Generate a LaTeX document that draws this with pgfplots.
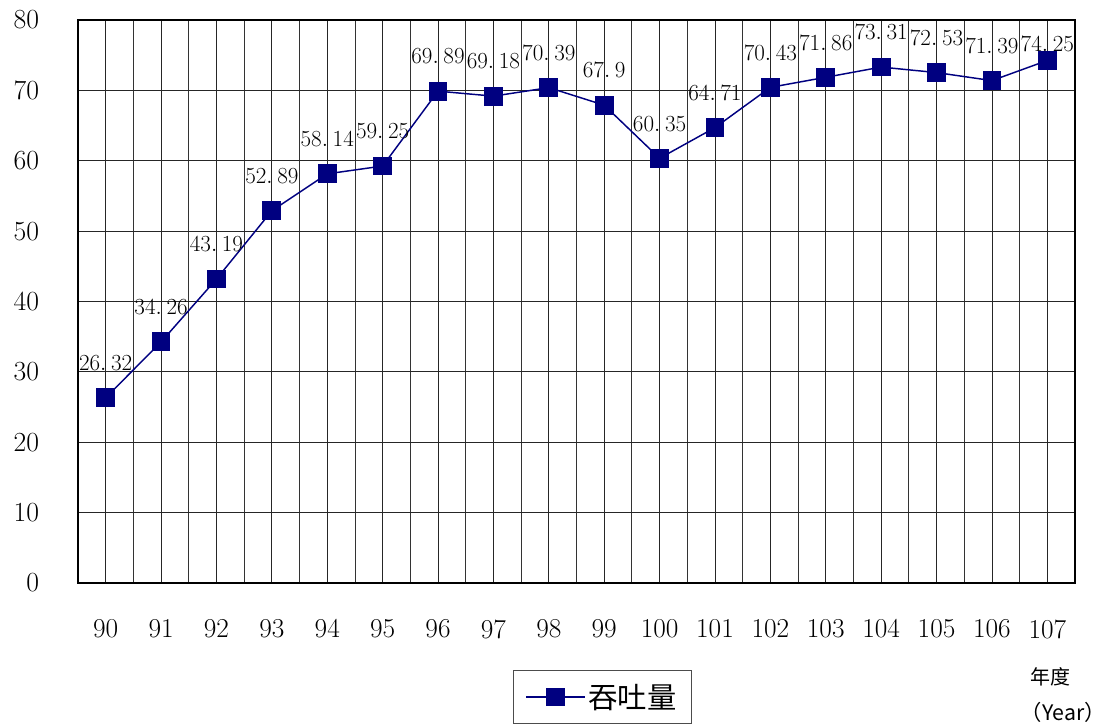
\documentclass[border=0pt]{standalone}
\usepackage{fontspec}
\usepackage{pgfplots}
\pgfplotsset{compat=1.18}
\newfontfamily\cjk{Noto Sans CJK TC}
\definecolor{navy}{RGB}{0,0,128}

\begin{document}
\begin{tikzpicture}
  \begin{axis}[
    at={(0,0)}, anchor=south west,
    scale only axis,
    width=747.75pt,
    height=422.25pt,
    xmin=-0.5, xmax=17.5,
    ymin=0, ymax=80,
    xtick={0,...,17},
    xticklabels={90,91,92,93,94,95,96,97,98,99,100,101,102,103,104,105,106,107},
    minor xtick={0.5,1.5,...,16.5},
    ytick={0,10,...,80},
    major tick length=0pt, minor tick length=0pt,
    xmajorgrids, xminorgrids, ymajorgrids,
    grid style={black!85, line width=0.6pt},
    minor grid style={black!80, line width=0.6pt},
    axis line style={black, line width=1.5pt},
    tick label style={font=\fontsize{20.5}{20}\selectfont, inner sep=0pt},
    xticklabel style={anchor=center, yshift=-34.5pt},
    yticklabel style={anchor=east, xshift=-29pt},
    nodes near coords style={font=\fontsize{16.5}{16.5}\selectfont, black, anchor=center,
      /pgf/number format/dec sep={.\hspace{3.5pt}}},
    legend style={at={(0.526,-0.2025)}, anchor=center, draw=black!70, line width=0.6pt,
      font=\cjk\fontsize{22}{22}\selectfont, inner xsep=9pt, inner ysep=8pt},
    legend image code/.code={\draw[#1, mark repeat=2, mark phase=2] plot coordinates {(0pt,0pt) (22pt,0pt) (44pt,0pt)};},
  ]
  \addplot[navy, line width=1.1pt, mark=square*, mark size=6.5pt, mark options={fill=navy, draw=navy}]
    coordinates {
      (0,26.32) (1,34.26) (2,43.19) (3,52.89) (4,58.14) (5,59.25)
      (6,69.89) (7,69.18) (8,70.39) (9,67.9) (10,60.35) (11,64.71)
      (12,70.43) (13,71.86) (14,73.31) (15,72.53) (16,71.39) (17,74.25)
    };
  \addlegendentry{吞吐量}
  % value labels
  \addplot[draw=none, mark=none, forget plot, nodes near coords,
    nodes near coords style={yshift=26pt}]
    coordinates {
      (0,26.32) (1,34.26) (2,43.19) (3,52.89) (4,58.14) (5,59.25)
      (6,69.89) (7,69.18) (8,70.39) (9,67.9) (10,60.35) (11,64.71)
      (12,70.43) (13,71.86) (14,73.31) (15,72.53) (16,71.39)
    };
  \addplot[draw=none, mark=none, forget plot, nodes near coords,
    nodes near coords style={yshift=12pt}]
    coordinates {(17,74.25)};
  \end{axis}
  \node[font=\cjk\fontsize{15}{15}\selectfont] at (729pt,-70.5pt) {年度};
  \node[font=\cjk\fontsize{16}{16}\selectfont] at (739pt,-96.75pt) {（Year）};
  \pgfresetboundingbox
  \path[use as bounding box] (-58.5pt,-105.75pt) rectangle (778.5pt,437.25pt);
\end{tikzpicture}
\end{document}
